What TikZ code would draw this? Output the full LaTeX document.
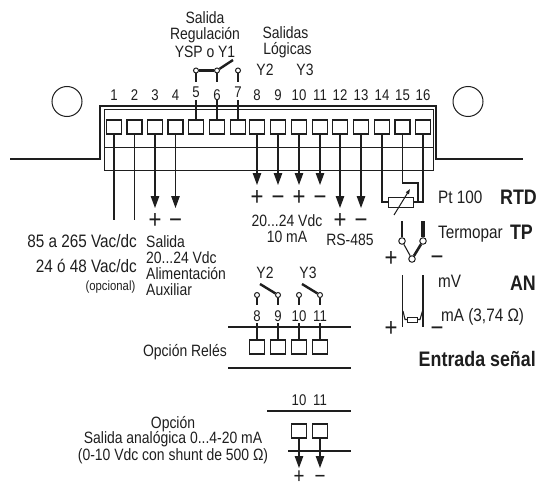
\documentclass[tikz,border=0pt]{standalone}
\usepackage{fontspec}
\setmainfont[FakeStretch=0.85]{Liberation Sans}
\usetikzlibrary{arrows.meta}
\newcommand{\fs}[1]{\fontsize{#1}{#1}\selectfont}
\definecolor{ink}{HTML}{1E1E1E}
\tikzset{
  wire/.style={draw=ink,line width=1.1pt},
  heavy/.style={draw=ink,line width=2.6pt},
  bar/.style={draw=ink,line width=2.4pt},
  feed/.style={wire,-{Triangle[length=12pt,width=8.5pt]}},
  term/.style={draw=ink,line width=1.1pt,fill=white,minimum width=15pt,minimum height=14pt,inner sep=0},
  hole/.style={circle,draw=ink,line width=1pt,minimum size=30pt,inner sep=0},
  pin/.style={circle,draw=ink,line width=1pt,fill=white,minimum size=5pt,inner sep=0},
  bigpin/.style={circle,draw=ink,line width=1pt,fill=white,minimum size=6.5pt,inner sep=0},
  res/.style={draw=ink,line width=1pt,fill=white,inner sep=0},
  lab/.style={text=ink,inner sep=0,text height=11.5pt,text depth=0pt,font=\fs{16.4}},
  num/.style={lab,font=\fs{15.5}},
  small/.style={lab,font=\fs{13.3}},
  large/.style={lab,text height=13pt,font=\fs{18}},
  strong/.style={lab,text height=15pt,font=\fs{21}\bfseries},
  pm/.style={text=ink,inner sep=0,anchor=base,yshift=-9pt,font=\fs{26}},
  pmlow/.style={text=ink,inner sep=0,anchor=base,yshift=-7pt,font=\fs{22}},
}
\begin{document}
\begin{tikzpicture}[x=1pt,y=-1pt]
\useasboundingbox (0,0) rectangle (537,484);
% housing
\draw[draw=ink,line width=1.3pt] (10,159) -- (100,159) -- (100,106) -- (436,106) -- (436,159) -- (523,159);
\draw[draw=ink,line width=1pt] (104,109) rectangle (433,170);
\draw[draw=ink,line width=1pt] (104,147.5) -- (433,147.5);
\node[hole] (holeL) at (67,101.5) {};
\node[hole] (holeR) at (468,101.5) {};
% terminals and numbers
\foreach \i/\x/\ny in {1/114/95,2/134.5/95,3/155/95,4/175.5/95,5/196/92,6/217/95,7/238/92,8/257/95,9/278/95,10/299/95,11/320/95,12/340/95,13/361/95,14/382/95,15/402.5/95,16/423/95}{
  \node[term] (t\i) at (\x,127) {};
  \node[num] (n\i) at (\x,\ny) {\i};
}
% mains wires
\coordinate (e1) at (114,220);
\coordinate (e2) at (134.5,220);
\draw[wire] (t1.south) -- (e1);
\draw[wire] (t2.south) -- (e2);
% arrows
\foreach \i/\x/\yy in {3/155/208,4/175.5/208,8/257/185,9/278/185,10/299/185,11/320/185,12/340/208,13/361/208}{
  \coordinate (e\i) at (\x,\yy);
  \draw[feed] (t\i.south) -- (e\i);
}
\foreach \nm/\x/\yy/\s in {p3/155/219/+,m3/175.5/219/−,p8/257/196/+,m9/278/196/−,p10/299/196/+,m11/320/196/−,p12/340/219/+,m13/361/219/−,ptp/391/257/+,mtp/437/256/−,pan/391/327/+}{
  \node[pm] (\nm) at (\x,\yy) {\s};
}
\node[pmlow] (pa) at (299,476) {+};
\node[pmlow] (ma) at (320,476) {−};
\node[pm] (man) at (437,327) {−};
% regulation output
\node[pin] (c5) at (196,70.5) {};
\node[pin] (c6) at (217,70.5) {};
\node[pin] (c7) at (238,70.5) {};
\coordinate (arm) at (233,60);
\draw[bar] (c5) -- (c6);
\draw[bar] (c6) -- (arm);
\foreach \i/\x in {5/196,6/217,7/238}{
  \coordinate (lo\i) at (\x,100.5);
  \coordinate (up\i) at (\x,82);
  \draw[wire] (t\i.north) -- (lo\i);
  \draw[wire] (c\i) -- (up\i);
}
\node[lab] (l1) at (205,18) {Salida};
\node[lab] (l2) at (205,34) {Regulación};
\node[lab] (l3) at (205,52) {YSP o Y1};
\node[lab] (l4) at (285.5,33) {Salidas};
\node[lab] (l5) at (287.5,48.5) {Lógicas};
\node[lab] (l6) at (265,70) {Y2};
\node[lab] (l7) at (305,70) {Y3};
% supply labels
\node[large,anchor=east] (l8) at (137,241) {85 a 265 Vac/dc};
\node[large,anchor=east] (l9) at (137,266) {24 ó 48 Vac/dc};
\node[small,anchor=east] (l10) at (135.5,285) {(opcional)};
\node[lab,anchor=west] (l11) at (146,242) {Salida};
\node[lab,anchor=west] (l12) at (146,258) {20...24 Vdc};
\node[lab,anchor=west] (l13) at (146,274) {Alimentación};
\node[lab,anchor=west] (l14) at (146,290) {Auxiliar};
\node[lab] (l15) at (287,221) {20...24 Vdc};
\node[lab] (l16) at (287,237) {10 mA};
\node[lab] (l17) at (350,240) {RS-485};
% relay option
\node[lab] (l18) at (265,273) {Y2};
\node[lab] (l19) at (308,273) {Y3};
\foreach \k/\x/\lbl in {8/257/8,9/278/9,10/299/10,11/320/11}{
  \node[pin] (r\k) at (\x,295) {};
  \coordinate (rw\k) at (\x,305);
  \draw[wire] (r\k) -- (rw\k);
  \node[num] (rn\k) at (\x,316) {\lbl};
  \node[term] (rt\k) at (\x,347) {};
  \coordinate (rtop\k) at (\x,323);
  \draw[wire] (rt\k.north) -- (rtop\k);
}
\coordinate (s9) at (260,284);
\coordinate (s11) at (302,284);
\draw[bar] (r9) -- (s9);
\draw[bar] (r11) -- (s11);
\coordinate (ra) at (228,327);
\coordinate (rb) at (351,327);
\coordinate (rc) at (228,368);
\coordinate (rd) at (351,368);
\draw[draw=ink,line width=2pt] (ra) -- (rb);
\draw[wire] (rc) -- (rd);
\node[lab,anchor=east] (l20) at (227,351) {Opción Relés};
% analog option
\node[num] (an10) at (299,400) {10};
\node[num] (an11) at (320,400) {11};
\coordinate (aa) at (267,411);
\coordinate (ab) at (351,411);
\coordinate (ac) at (288,451);
\coordinate (ad) at (351,451);
\draw[draw=ink,line width=2pt] (aa) -- (ab);
\draw[wire] (ac) -- (ad);
\node[term] (at10) at (299,431) {};
\node[term] (at11) at (320,431) {};
\coordinate (ae10) at (299,468);
\coordinate (ae11) at (320,468);
\draw[feed] (at10.south) -- (ae10);
\draw[feed] (at11.south) -- (ae11);
\node[lab] (l21) at (173,423) {Opción};
\node[lab] (l22) at (173,438) {Salida analógica 0...4-20 mA};
\node[lab] (l23) at (173,455) {(0-10 Vdc con shunt de 500 Ω)};
% RTD
\node[res,minimum width=25pt,minimum height=10pt] (rtd) at (400.5,202) {};
\draw[wire] (t14.south) |- (rtd.west);
\draw[wire] (t16.south) |- (rtd.east);
\coordinate (k1) at (418,183);
\draw[wire] (t15.south) |- (k1) |- (rtd.east);
\coordinate (va) at (394,215);
\coordinate (vb) at (410,189);
\draw[draw=ink,line width=1pt,-{Triangle[length=5pt,width=3.5pt]}] (va) -- (vb);
\node[large,anchor=west] (l24) at (438,197) {Pt 100};
\node[strong,anchor=east] (l25) at (537,197) {RTD};
% TP
\node[bigpin] (tpa) at (402,241) {};
\node[bigpin] (tpb) at (423,241) {};
\node[bigpin] (tpc) at (412,259) {};
\coordinate (tpat) at (402,221);
\coordinate (tpbt) at (423,221);
\draw[wire] (tpa) -- (tpat);
\draw[heavy,line width=3.5pt] (tpb) -- (tpbt);
\draw[wire] (tpa) -- (tpc);
\draw[heavy] (tpb) -- (tpc);
\node[large,anchor=west] (l26) at (438,232) {Termopar};
\node[strong,anchor=east] (l27) at (533,232) {TP};
% AN
\coordinate (ana) at (402.5,275);
\coordinate (anb) at (402.5,327);
\coordinate (anc) at (423,275);
\coordinate (and) at (423,327);
\draw[wire] (ana) -- (anb);
\draw[wire] (anc) -- (and);
\node[res,minimum width=10pt,minimum height=5pt] (shunt) at (412.5,319.5) {};
\coordinate (anl) at (403,311);
\coordinate (anr) at (422.5,311);
\draw[wire] (anl) -- (405,319.5) -- (shunt.west);
\draw[wire] (anr) -- (420,319.5) -- (shunt.east);
\node[large,anchor=west] (l28) at (438,281) {mV};
\node[strong,anchor=east] (l29) at (536,283) {AN};
\node[large,anchor=west] (l30) at (441,315) {mA (3,74 Ω)};
\node[strong,anchor=east] (l31) at (536,359) {Entrada señal};
\end{tikzpicture}
\end{document}
